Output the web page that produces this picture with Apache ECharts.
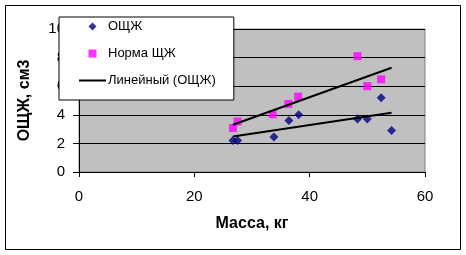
<!DOCTYPE html>
<html>
<head>
<meta charset="utf-8">
<script src="https://cdn.jsdelivr.net/npm/echarts@6/dist/echarts.min.js"></script>
<style>
html,body{margin:0;padding:0;background:#fff;}
#c{width:466px;height:255px;}
</style>
</head>
<body>
<div id="c"></div>
<script>
// Data
var massO = [26.7, 27.5, 33.8, 36.4, 38.1, 48.3, 50.0, 52.4, 54.2];
var valO  = [2.2, 2.2, 2.44, 3.6, 4.0, 3.7, 3.7, 5.2, 2.9];
var massN = [26.7, 27.5, 33.6, 36.3, 38.0, 48.3, 50.0, 52.4];
var valN  = [3.07, 3.53, 4.04, 4.76, 5.27, 8.1, 6.0, 6.48];
// Linear trend endpoints
var trendX  = [26.7, 54.2];
var trendO  = [2.48, 4.15];
var trendN  = [3.3, 7.29];
var xTicks = [0, 20, 40, 60];
var yTicks = [0, 2, 4, 6, 8, 10];
var names = ['ОЩЖ', 'Норма ЩЖ', 'Линейный (ОЩЖ)', 'Линейный (Норма ЩЖ)'];
var xTitle = 'Масса, кг';
var yTitle = 'ОЩЖ, см3';

function pairs(xs, ys){ return xs.map(function(x,i){ return [x, ys[i]]; }); }

var FONT = 'Arial, "Liberation Sans", sans-serif';
var chart = echarts.init(document.getElementById('c'), null, {renderer:'canvas'});
chart.setOption({
  animation: false,
  backgroundColor: '#fff',
  textStyle: {fontFamily: FONT},
  graphic: [{
    type: 'rect', z: -1, silent: true,
    shape: {x: 5.5, y: 5.5, width: 455, height: 244},
    style: {fill: 'none', stroke: '#000', lineWidth: 1}
  }],
  grid: {
    left: 79, top: 29, right: 41, bottom: 83,
    show: true, backgroundColor: '#C0C0C0', borderColor: '#808080', borderWidth: 1
  },
  legend: {
    data: [
      {name: names[0], icon: 'path://M0,-1L1,0L0,1L-1,0Z'},
      {name: names[1], icon: 'path://M0,0H1V1H0Z'},
      {name: names[2], icon: 'path://M0,0H27V2H0Z'}
    ],
    orient: 'vertical',
    left: 59, top: 17,
    backgroundColor: '#fff',
    borderColor: '#000', borderWidth: 1,
    padding: [3, 18, 13, 20],
    itemWidth: 27, itemHeight: 8, itemGap: 14,
    symbolKeepAspect: true,
    textStyle: {fontFamily: FONT, fontSize: 13, color: '#000', padding: [0,0,0,-3]},
    z: 10
  },
  xAxis: {
    type: 'value', min: xTicks[0], max: xTicks[xTicks.length-1], interval: 20,
    name: xTitle, nameLocation: 'middle', nameGap: 44,
    nameTextStyle: {fontFamily: FONT, fontSize: 16, fontWeight: 'bold', color: '#000'},
    axisLine: {show: true, lineStyle: {color: '#000', width: 1}},
    axisTick: {show: true, length: 5, lineStyle: {color: '#000'}},
    axisLabel: {fontFamily: FONT, fontSize: 15, color: '#000', margin: 17},
    splitLine: {show: false}
  },
  yAxis: {
    type: 'value', min: yTicks[0], max: yTicks[yTicks.length-1], interval: 2,
    name: yTitle, nameLocation: 'middle', nameGap: 46, nameRotate: 90,
    nameTextStyle: {fontFamily: FONT, fontSize: 16, fontWeight: 'bold', color: '#000'},
    axisLine: {show: true, lineStyle: {color: '#000', width: 1}},
    axisTick: {show: true, length: 6, lineStyle: {color: '#000'}},
    axisLabel: {fontFamily: FONT, fontSize: 15, color: '#000', margin: 14},
    splitLine: {show: true, lineStyle: {color: '#000', width: 1}}
  },
  series: [
    {name: names[0], type: 'scatter', symbol: 'diamond', symbolSize: 9,
     itemStyle: {color: '#000080'}, data: pairs(massO, valO), z: 3},
    {name: names[1], type: 'scatter', symbol: 'rect', symbolSize: 8,
     itemStyle: {color: '#FF00FF'}, data: pairs(massN, valN), z: 3},
    {name: names[2], type: 'line', symbol: 'none', showSymbol: false,
     lineStyle: {color: '#000', width: 2}, itemStyle: {color: '#000'},
     data: pairs(trendX, trendO), z: 4},
    {name: names[3], type: 'line', symbol: 'none', showSymbol: false,
     lineStyle: {color: '#000', width: 2}, itemStyle: {color: '#000'},
     data: pairs(trendX, trendN), z: 4}
  ]
});
</script>
</body>
</html>
